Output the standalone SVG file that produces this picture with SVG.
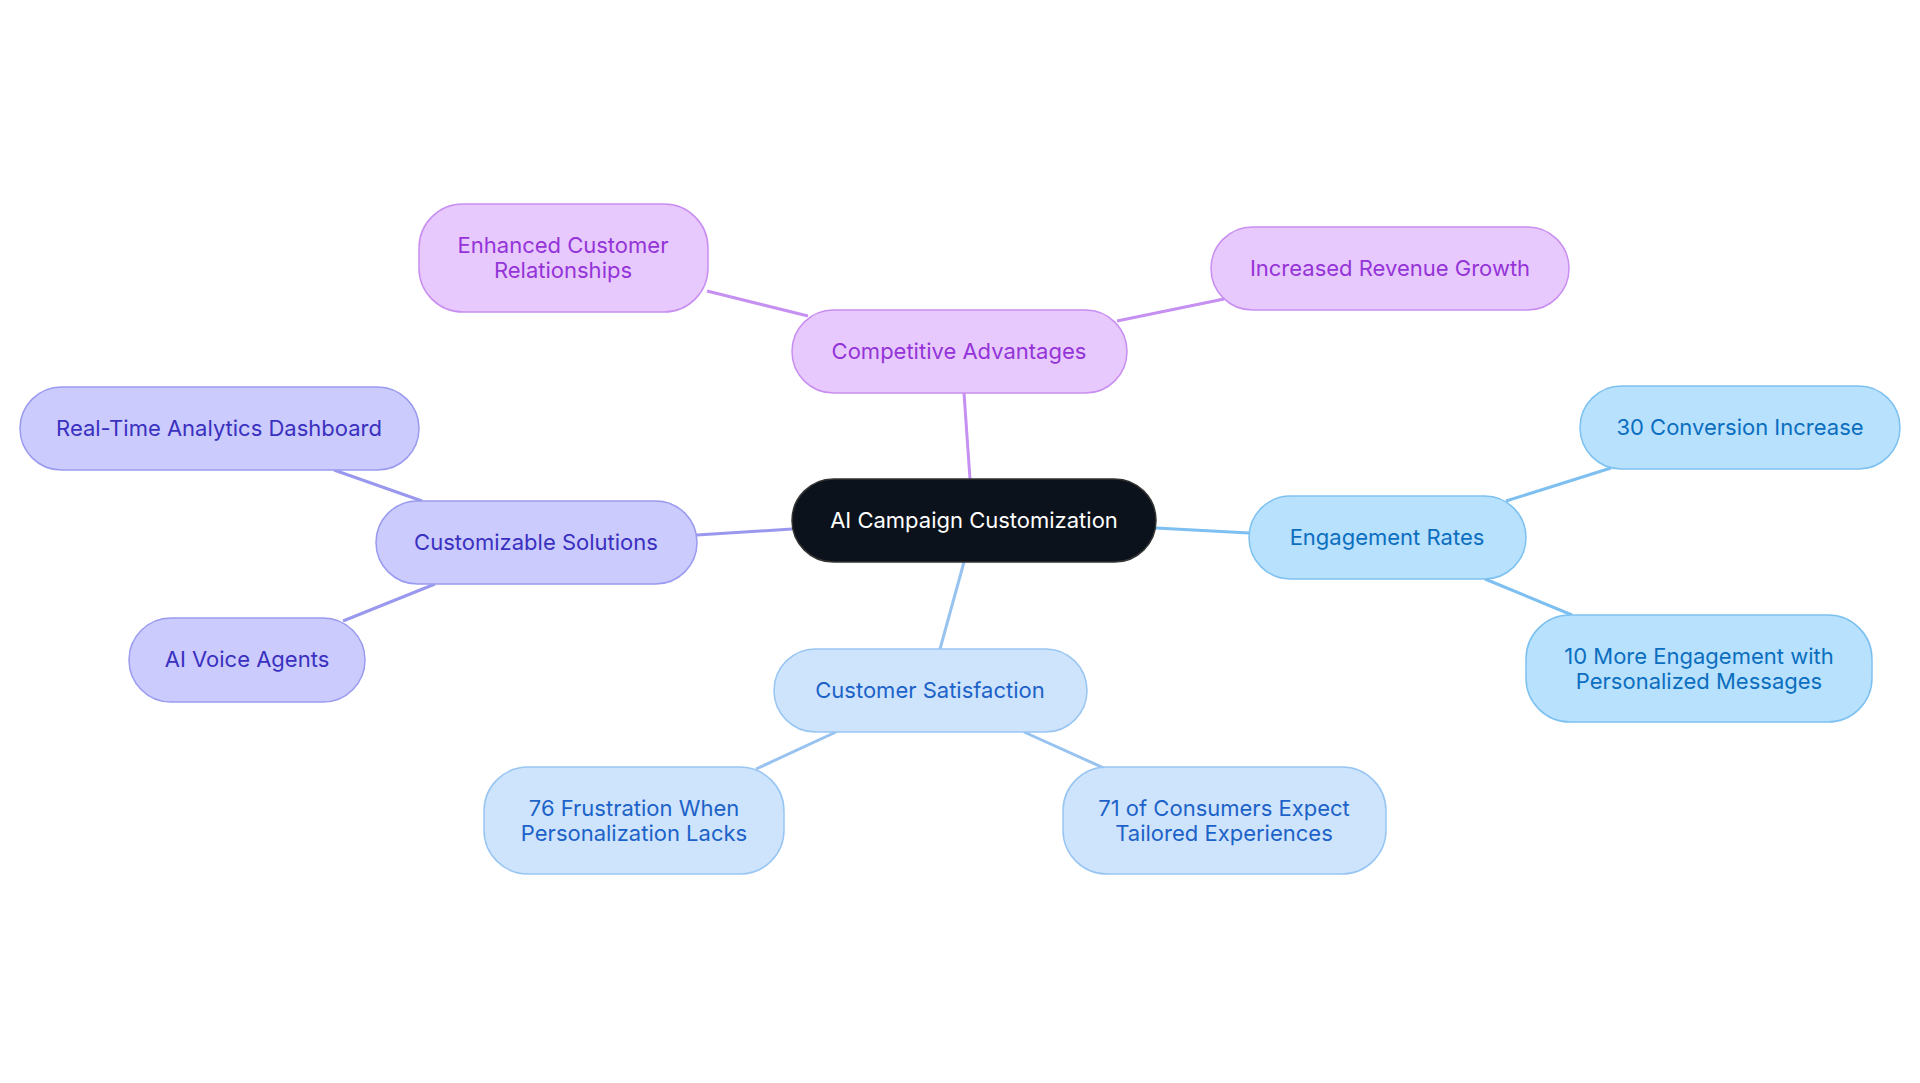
<svg xmlns="http://www.w3.org/2000/svg" width="1920" height="1083" viewBox="0 0 1920 1083">
<style>
text{font-family:Inter,"Noto Sans",sans-serif;font-size:22px;text-anchor:middle;dominant-baseline:central}
.p rect{fill:#e8c9fd;stroke:#c88ef0;stroke-width:1.5}.p text{fill:#9434d8}
.i rect{fill:#cbcbfd;stroke:#9a9af0;stroke-width:1.5}.i text{fill:#3a30c0}
.s rect{fill:#b8e1fd;stroke:#7dc1f0;stroke-width:1.5}.s text{fill:#0b6ebf}
.b rect{fill:#cee4fc;stroke:#98c5f2;stroke-width:1.5}.b text{fill:#1c62c8}
#edges line{stroke-width:3;fill:none}
</style>
<rect width="1920" height="1083" fill="#fff"/>
<g id="edges">
<line x1="964" y1="393" x2="970" y2="479" stroke="#c590f2"/>
<line x1="808" y1="316" x2="707" y2="291" stroke="#c590f2"/>
<line x1="1117" y1="321" x2="1224" y2="299" stroke="#c590f2"/>
<line x1="792" y1="529" x2="697" y2="535" stroke="#9a98ee"/>
<line x1="422" y1="501" x2="334" y2="470" stroke="#9a98ee"/>
<line x1="435" y1="584" x2="343" y2="621" stroke="#9a98ee"/>
<line x1="1156" y1="528" x2="1249" y2="533" stroke="#7cbff0"/>
<line x1="1506" y1="501" x2="1611" y2="468" stroke="#7cbff0"/>
<line x1="1485" y1="579" x2="1572" y2="615" stroke="#7cbff0"/>
<line x1="964" y1="562" x2="940" y2="649" stroke="#98c3f0"/>
<line x1="836" y1="732" x2="756" y2="769" stroke="#98c3f0"/>
<line x1="1024" y1="732" x2="1106" y2="769" stroke="#98c3f0"/>
</g>
<g id="center"><rect x="792" y="479" width="364" height="83" rx="41.5" fill="#0c121c" stroke="#333" stroke-width="1.5"/><text x="974" y="520" fill="#fff">AI Campaign Customization</text></g>
<g id="ca" class="p"><rect x="792" y="310" width="335" height="83" rx="41.5"/><text x="959" y="351">Competitive Advantages</text></g>
<g id="ecr" class="p"><rect x="419" y="204" width="289" height="108" rx="44"/><text x="563" y="245">Enhanced Customer</text><text x="563" y="270">Relationships</text></g>
<g id="irg" class="p"><rect x="1211" y="227" width="358" height="83" rx="41.5"/><text x="1390" y="268">Increased Revenue Growth</text></g>
<g id="cs" class="i"><rect x="376" y="501" width="321" height="83" rx="41.5"/><text x="536" y="542">Customizable Solutions</text></g>
<g id="rt" class="i"><rect x="20" y="387" width="399" height="83" rx="41.5"/><text x="219" y="428">Real-Time Analytics Dashboard</text></g>
<g id="av" class="i"><rect x="129" y="618" width="236" height="84" rx="42"/><text x="247" y="659">AI Voice Agents</text></g>
<g id="er" class="s"><rect x="1249" y="496" width="277" height="83" rx="41.5"/><text x="1387" y="537">Engagement Rates</text></g>
<g id="c30" class="s"><rect x="1580" y="386" width="320" height="83" rx="41.5"/><text x="1740" y="427">30 Conversion Increase</text></g>
<g id="m10" class="s"><rect x="1526" y="615" width="346" height="107" rx="44"/><text x="1699" y="656">10 More Engagement with</text><text x="1699" y="681">Personalized Messages</text></g>
<g id="csat" class="b"><rect x="774" y="649" width="313" height="83" rx="41.5"/><text x="930" y="690">Customer Satisfaction</text></g>
<g id="f76" class="b"><rect x="484" y="767" width="300" height="107" rx="44"/><text x="634" y="808">76 Frustration When</text><text x="634" y="833">Personalization Lacks</text></g>
<g id="c71" class="b"><rect x="1063" y="767" width="323" height="107" rx="44"/><text x="1224" y="808">71 of Consumers Expect</text><text x="1224" y="833">Tailored Experiences</text></g>
</svg>
